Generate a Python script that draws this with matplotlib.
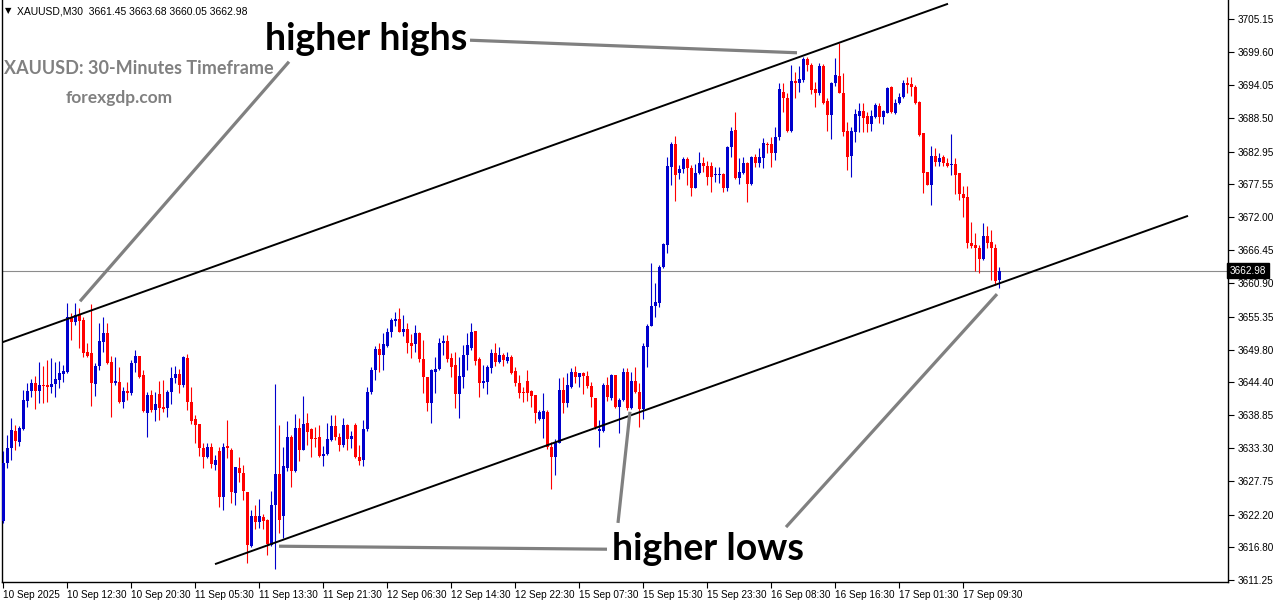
import numpy as np
import matplotlib
matplotlib.use("Agg")
import matplotlib.pyplot as plt
import matplotlib.transforms as mtransforms

# XAUUSD M30 candles (oldest first)
opens = [
    3621.1, 3630.8, 3633.3, 3636.2, 3634.3, 3636.5, 3641.2, 3642.9, 3644.2, 3642.9,
    3643.9, 3643.9, 3643.5, 3644.0, 3644.7, 3645.7, 3646.1, 3655.1, 3654.4, 3655.7,
    3654.8, 3649.4, 3649.2, 3644.0, 3647.1, 3651.1, 3652.6, 3647.8, 3644.2, 3644.4,
    3641.1, 3642.9, 3642.5, 3647.6, 3648.7, 3645.6, 3639.2, 3642.2, 3639.7, 3642.4,
    3640.2, 3640.0, 3642.7, 3645.1, 3645.7, 3643.9, 3648.4, 3641.1, 3638.2, 3637.4,
    3633.3, 3631.8, 3633.5, 3630.5, 3632.8, 3625.1, 3633.7, 3633.0, 3625.8, 3630.0,
    3629.2, 3626.0, 3616.9, 3621.9, 3620.9, 3621.8, 3621.3, 3617.1, 3623.8, 3629.0,
    3621.9, 3630.0, 3635.2, 3629.5, 3636.7, 3633.0, 3637.5, 3636.5, 3635.0, 3635.2,
    3632.0, 3632.3, 3634.7, 3637.0, 3635.2, 3633.8, 3637.2, 3634.8, 3637.2, 3631.8,
    3631.3, 3636.5, 3642.7, 3646.4, 3649.9, 3648.9, 3650.4, 3652.8, 3654.6, 3654.9,
    3652.8, 3653.3, 3650.9, 3650.7, 3652.6, 3648.2, 3645.2, 3640.9, 3646.1, 3646.6,
    3650.9, 3651.2, 3648.4, 3647.2, 3642.4, 3645.2, 3648.9, 3650.1, 3652.9, 3648.2,
    3644.2, 3644.4, 3646.7, 3649.2, 3647.7, 3648.9, 3647.9, 3648.6, 3646.2, 3644.2,
    3642.7, 3644.6, 3642.9, 3642.2, 3638.2, 3638.2, 3639.4, 3633.5, 3631.8, 3634.2,
    3643.1, 3640.9, 3643.5, 3646.1, 3645.2, 3645.9, 3645.4, 3643.7, 3641.7, 3636.2,
    3636.2, 3643.9, 3641.7, 3645.6, 3640.2, 3641.4, 3646.1, 3640.0, 3644.6, 3642.7,
    3639.9, 3650.2, 3653.7, 3657.1, 3657.6, 3663.6, 3667.3, 3680.4, 3684.2, 3679.3,
    3680.0, 3681.7, 3680.2, 3676.9, 3679.4, 3681.1, 3680.6, 3680.6, 3679.0, 3679.0,
    3679.2, 3676.9, 3683.7, 3686.6, 3678.5, 3679.4, 3681.1, 3677.6, 3682.1, 3681.1,
    3681.9, 3684.2, 3684.2, 3682.7, 3685.4, 3692.9, 3691.9, 3686.4, 3694.8, 3694.4,
    3694.9, 3698.5, 3697.5, 3693.4, 3692.8, 3697.3, 3691.4, 3689.1, 3694.4, 3695.6,
    3692.8, 3686.4, 3682.2, 3686.2, 3688.9, 3689.8, 3688.9, 3687.6, 3688.7, 3690.6,
    3688.7, 3689.4, 3693.8, 3689.4, 3691.1, 3692.1, 3694.4, 3694.3, 3693.8, 3691.3,
    3686.1, 3679.5, 3677.4, 3682.2, 3681.2, 3682.1, 3681.1, 3680.7, 3680.9, 3679.3,
    3675.9, 3675.4, 3667.6, 3667.3, 3666.9, 3664.9, 3668.8, 3667.8, 3666.9, 3661.45,
]
highs = [
    3632.8, 3635.5, 3638.4, 3637.2, 3637.0, 3643.1, 3644.2, 3644.9, 3645.4, 3647.7,
    3647.1, 3648.1, 3648.4, 3647.7, 3647.9, 3647.2, 3657.6, 3655.9, 3657.6, 3656.8,
    3655.3, 3650.9, 3657.4, 3647.6, 3654.2, 3655.3, 3654.2, 3648.7, 3648.6, 3646.9,
    3643.5, 3644.4, 3648.1, 3649.7, 3648.8, 3646.4, 3642.7, 3643.0, 3642.7, 3644.6,
    3644.7, 3643.1, 3646.9, 3647.1, 3646.6, 3648.7, 3649.1, 3643.5, 3638.9, 3637.4,
    3634.2, 3634.2, 3634.2, 3632.2, 3633.5, 3634.2, 3638.0, 3633.3, 3630.2, 3631.8,
    3630.5, 3626.0, 3623.0, 3623.8, 3624.8, 3622.3, 3621.4, 3626.1, 3644.0, 3637.2,
    3633.5, 3637.9, 3635.5, 3639.0, 3638.4, 3642.0, 3639.2, 3636.7, 3636.9, 3637.2,
    3633.7, 3637.5, 3638.9, 3638.9, 3635.8, 3638.4, 3637.3, 3636.2, 3637.5, 3633.8,
    3638.0, 3643.5, 3646.9, 3650.4, 3650.9, 3652.6, 3653.4, 3655.1, 3656.1, 3656.8,
    3655.6, 3654.2, 3652.4, 3653.9, 3652.7, 3651.4, 3645.3, 3646.5, 3648.6, 3651.7,
    3652.2, 3652.2, 3649.2, 3649.4, 3648.6, 3650.6, 3652.6, 3654.2, 3653.0, 3648.6,
    3647.2, 3647.2, 3649.9, 3650.9, 3650.2, 3649.2, 3649.4, 3648.9, 3646.9, 3645.6,
    3643.5, 3646.4, 3643.1, 3642.2, 3639.7, 3642.5, 3639.7, 3634.3, 3634.9, 3645.1,
    3645.2, 3645.9, 3646.7, 3647.1, 3645.9, 3646.1, 3646.2, 3644.4, 3641.7, 3638.0,
    3644.2, 3645.2, 3645.7, 3645.6, 3641.7, 3646.7, 3646.7, 3646.1, 3646.9, 3644.2,
    3650.9, 3654.1, 3664.3, 3660.9, 3664.0, 3667.6, 3682.1, 3684.6, 3685.6, 3680.7,
    3682.1, 3682.1, 3680.7, 3680.8, 3682.9, 3682.1, 3681.4, 3681.2, 3680.3, 3680.3,
    3679.3, 3683.9, 3687.1, 3689.6, 3681.9, 3682.1, 3681.2, 3682.2, 3682.6, 3683.6,
    3685.2, 3684.6, 3685.4, 3687.1, 3694.4, 3694.4, 3692.7, 3697.5, 3696.3, 3697.3,
    3698.8, 3698.8, 3697.8, 3694.6, 3697.8, 3697.6, 3691.9, 3694.6, 3698.6, 3701.1,
    3696.1, 3687.9, 3687.1, 3690.1, 3691.1, 3691.1, 3689.6, 3689.9, 3691.1, 3691.1,
    3689.9, 3693.8, 3693.9, 3691.7, 3692.7, 3694.9, 3695.4, 3695.4, 3694.1, 3691.4,
    3686.1, 3679.6, 3683.9, 3683.6, 3682.7, 3682.4, 3681.9, 3685.9, 3681.9, 3679.4,
    3677.2, 3677.2, 3671.2, 3669.3, 3667.3, 3671.0, 3670.5, 3669.8, 3667.5, 3663.68,
]
lows = [
    3620.8, 3630.0, 3631.3, 3633.0, 3633.7, 3636.4, 3640.2, 3641.9, 3639.9, 3640.9,
    3640.9, 3641.1, 3642.5, 3641.9, 3643.4, 3644.4, 3645.9, 3651.4, 3653.9, 3650.1,
    3648.6, 3648.6, 3640.4, 3642.0, 3646.4, 3649.4, 3647.4, 3638.5, 3643.9, 3640.9,
    3640.0, 3641.4, 3642.2, 3646.1, 3645.0, 3639.4, 3635.2, 3639.3, 3637.9, 3638.0,
    3639.3, 3638.5, 3640.7, 3644.2, 3642.5, 3643.5, 3639.7, 3637.4, 3634.2, 3632.0,
    3630.0, 3631.7, 3630.0, 3629.7, 3623.5, 3623.0, 3631.7, 3624.1, 3623.8, 3627.6,
    3624.6, 3614.1, 3616.7, 3619.8, 3619.9, 3619.8, 3615.4, 3616.9, 3613.1, 3619.1,
    3618.3, 3629.5, 3626.8, 3629.3, 3631.2, 3633.0, 3633.8, 3631.8, 3633.5, 3631.8,
    3630.3, 3632.2, 3634.5, 3634.7, 3632.8, 3633.5, 3633.0, 3633.3, 3631.7, 3630.5,
    3630.3, 3636.2, 3642.4, 3644.7, 3646.1, 3646.4, 3650.2, 3651.9, 3653.8, 3652.7,
    3652.1, 3649.2, 3648.4, 3649.4, 3647.7, 3642.5, 3639.5, 3637.5, 3642.5, 3646.4,
    3648.9, 3647.7, 3645.2, 3640.0, 3638.3, 3643.4, 3646.4, 3649.7, 3647.2, 3641.9,
    3643.4, 3642.4, 3645.9, 3647.1, 3647.6, 3647.1, 3647.6, 3645.7, 3643.7, 3641.7,
    3641.1, 3641.2, 3640.2, 3637.5, 3638.0, 3635.0, 3633.2, 3626.5, 3628.8, 3634.2,
    3639.2, 3640.2, 3643.4, 3644.2, 3643.5, 3642.4, 3643.4, 3640.2, 3636.5, 3633.5,
    3636.0, 3641.2, 3641.4, 3640.0, 3635.8, 3641.2, 3639.7, 3639.9, 3642.5, 3636.9,
    3638.2, 3646.9, 3653.7, 3655.3, 3656.9, 3663.4, 3665.9, 3677.4, 3674.7, 3678.3,
    3679.4, 3677.4, 3675.6, 3676.9, 3679.2, 3679.6, 3677.4, 3676.2, 3677.9, 3677.7,
    3676.2, 3676.4, 3682.1, 3678.4, 3677.6, 3679.2, 3674.5, 3677.4, 3680.4, 3680.4,
    3680.2, 3682.7, 3680.4, 3681.5, 3684.9, 3689.6, 3686.2, 3686.2, 3691.9, 3692.9,
    3694.6, 3696.4, 3692.6, 3690.4, 3692.4, 3690.9, 3686.4, 3685.1, 3693.9, 3692.8,
    3685.6, 3679.9, 3678.7, 3684.6, 3686.2, 3686.2, 3686.2, 3686.4, 3688.6, 3687.7,
    3687.6, 3689.4, 3689.4, 3689.3, 3690.9, 3691.9, 3692.8, 3692.3, 3691.0, 3685.6,
    3676.0, 3677.3, 3674.0, 3680.6, 3680.5, 3680.5, 3680.4, 3679.0, 3675.9, 3674.9,
    3672.0, 3666.8, 3666.8, 3663.0, 3662.6, 3664.8, 3666.9, 3661.5, 3660.6, 3660.05,
]
closes = [
    3630.8, 3633.3, 3636.4, 3634.5, 3636.7, 3641.4, 3642.9, 3644.2, 3642.9, 3643.9,
    3643.7, 3643.5, 3644.0, 3644.9, 3645.9, 3646.2, 3655.3, 3654.4, 3655.6, 3654.6,
    3649.2, 3648.7, 3644.2, 3647.1, 3651.2, 3652.6, 3647.6, 3644.2, 3644.6, 3641.1,
    3642.9, 3642.5, 3647.6, 3648.7, 3645.2, 3639.5, 3642.2, 3639.7, 3640.7, 3640.0,
    3639.9, 3642.7, 3645.1, 3645.7, 3643.9, 3648.6, 3641.1, 3637.9, 3637.2, 3633.3,
    3631.8, 3633.5, 3630.7, 3631.3, 3625.1, 3633.5, 3633.3, 3626.0, 3630.2, 3629.2,
    3626.1, 3617.1, 3621.9, 3620.9, 3621.9, 3621.1, 3617.3, 3623.8, 3629.0, 3621.3,
    3630.3, 3635.2, 3629.5, 3636.7, 3633.0, 3637.4, 3636.0, 3634.8, 3634.9, 3632.0,
    3632.3, 3634.8, 3637.0, 3635.2, 3633.8, 3637.2, 3634.8, 3635.3, 3631.8, 3631.2,
    3636.5, 3642.7, 3646.4, 3649.9, 3648.9, 3650.7, 3652.8, 3654.8, 3654.9, 3652.8,
    3653.3, 3650.9, 3650.4, 3652.6, 3648.2, 3645.2, 3640.9, 3646.4, 3646.6, 3650.9,
    3651.2, 3648.2, 3646.9, 3642.4, 3645.4, 3648.9, 3650.6, 3652.8, 3647.9, 3644.2,
    3644.6, 3646.9, 3649.2, 3647.7, 3648.9, 3648.1, 3648.6, 3645.9, 3644.2, 3642.5,
    3642.5, 3642.5, 3642.0, 3639.2, 3639.4, 3639.5, 3633.5, 3631.8, 3634.2, 3643.1,
    3640.9, 3643.9, 3646.1, 3645.2, 3645.9, 3645.4, 3643.7, 3641.9, 3636.9, 3636.5,
    3643.9, 3641.9, 3645.6, 3640.2, 3641.4, 3646.1, 3640.0, 3644.6, 3642.7, 3639.9,
    3650.4, 3653.8, 3657.1, 3657.8, 3663.6, 3667.5, 3680.5, 3684.2, 3679.0, 3680.0,
    3681.7, 3680.2, 3676.9, 3679.4, 3681.1, 3680.6, 3678.7, 3678.7, 3679.2, 3679.2,
    3676.9, 3683.7, 3686.4, 3678.5, 3679.5, 3681.1, 3677.6, 3682.1, 3681.1, 3682.1,
    3684.4, 3684.1, 3682.7, 3685.4, 3693.4, 3691.9, 3686.4, 3694.8, 3694.4, 3695.1,
    3698.5, 3697.5, 3693.3, 3692.8, 3697.3, 3691.1, 3689.1, 3694.4, 3695.8, 3692.8,
    3686.2, 3682.1, 3686.4, 3689.3, 3689.8, 3688.6, 3687.6, 3688.9, 3690.7, 3688.7,
    3689.8, 3693.6, 3689.6, 3691.1, 3692.1, 3694.4, 3694.1, 3693.8, 3691.1, 3685.7,
    3679.4, 3677.4, 3682.2, 3681.2, 3681.9, 3681.1, 3680.6, 3680.9, 3679.0, 3675.9,
    3675.2, 3667.6, 3667.1, 3666.9, 3664.9, 3668.8, 3667.6, 3666.9, 3661.3, 3662.98,
]

time_labels = ['10 Sep 2025', '10 Sep 12:30', '10 Sep 20:30', '11 Sep 05:30',
               '11 Sep 13:30', '11 Sep 21:30', '12 Sep 06:30', '12 Sep 14:30',
               '12 Sep 22:30', '15 Sep 07:30', '15 Sep 15:30', '15 Sep 23:30',
               '16 Sep 08:30', '16 Sep 16:30', '17 Sep 01:30', '17 Sep 09:30']
label_step = 16  # one label every 16 bars (8 hours)

price_ticks = [3705.15, 3699.60, 3694.05, 3688.50, 3682.95, 3677.55, 3672.00,
               3666.45, 3660.90, 3655.35, 3649.80, 3644.40, 3638.85, 3633.30,
               3627.75, 3622.20, 3616.80, 3611.25]

# channel trendlines as (bar, price) end points
upper_channel = [(-0.75, 3650.9), (236.25, 3707.7)]
lower_channel = [(53.0, 3613.9), (296.25, 3672.2)]

# grey pointer lines (bar, price)
pointers = [
    [(116.75, 3701.6), (198.5, 3699.5)],
    [(19.25, 3657.9), (71.5, 3698.0)],
    [(69.0, 3616.9), (151.0, 3616.4)],
    [(153.75, 3620.8), (156.75, 3639.4)],
    [(195.75, 3620.1), (248.5, 3659.1)],
]

BLUE = '#0000CC'
RED = '#FF0000'
GREY = '#808080'
TICK_FONT = 'Liberation Sans'

W, H = 1276, 604
fig = plt.figure(figsize=(W / 100, H / 100), dpi=100)
fig.patch.set_facecolor('white')
ax = fig.add_axes([2 / W, 22 / H, 1226 / W, 582 / H])

o = np.array(opens)
h = np.array(highs)
l = np.array(lows)
c = np.array(closes)
x = np.arange(len(o))
up = c >= o
cols = np.where(up, BLUE, RED)

ax.vlines(x, l, h, colors=cols, lw=0.8, zorder=3)
body_lo = np.minimum(o, c)
body_h = np.maximum(np.abs(c - o), 0.17)
ax.bar(x, body_h, bottom=body_lo, width=0.75, color=cols, lw=0, zorder=4)

# trend channel
for seg in (upper_channel, lower_channel):
    (x0, y0), (x1, y1) = seg
    ax.plot([x0, x1], [y0, y1], color='black', lw=1.4, zorder=5, solid_capstyle='butt')

for seg in pointers:
    (x0, y0), (x1, y1) = seg
    ax.plot([x0, x1], [y0, y1], color=GREY, lw=2.3, zorder=6, solid_capstyle='butt')

# current price line and tag
last = closes[-1]
ax.axhline(last, color='#8c8c8c', lw=0.8, zorder=2)
trans = mtransforms.blended_transform_factory(ax.transAxes, ax.transData)
ax.text(1.0015, last, '%.2f' % last, transform=trans, ha='left', va='center',
        fontsize=7.2, color='white', family=TICK_FONT, clip_on=False, zorder=10,
        bbox=dict(boxstyle='square,pad=0.25', fc='black', ec='black'))

ax.set_xlim(-0.25, 306.25)
ax.set_ylim(3610.91, 3708.33)

ax.yaxis.tick_right()
ax.set_yticks(price_ticks)
ax.set_yticklabels(['%.2f' % v for v in price_ticks])
ax.set_xticks(np.arange(len(time_labels)) * label_step)
ax.set_xticklabels(time_labels, ha='left')
ax.tick_params(axis='both', direction='out', length=4, width=0.8, labelsize=7.2,
               colors='black', pad=2)
ax.tick_params(axis='y', pad=3)
for lab in ax.get_xticklabels() + ax.get_yticklabels():
    lab.set_family(TICK_FONT)

ax.spines['top'].set_visible(False)
for s in ('left', 'right', 'bottom'):
    ax.spines[s].set_color('black')
    ax.spines[s].set_linewidth(1.0)


def px_text(px, py, s, **kw):
    fig.text(px / W, 1 - py / H, s, va='baseline', ha='left', **kw)


px_text(5, 13, '\u25bc', fontsize=6, family='DejaVu Sans', color='black')
px_text(17, 14, 'XAUUSD,M30  3661.45 3663.68 3660.05 3662.98', fontsize=7.5,
        family='Liberation Sans', color='black')
px_text(4, 74, 'XAUUSD: 30-Minutes Timeframe', fontsize=13, family='Lato',
        weight='bold', color=GREY)
px_text(66, 103, 'forexgdp.com', fontsize=12.5, family='Lato', weight='bold', color=GREY)
px_text(265, 50, 'higher highs', fontsize=27, family='Lato', weight='bold', color='black')
px_text(612, 560, 'higher lows', fontsize=27, family='Lato', weight='bold', color='black')

fig.savefig('out.png', dpi=100)
